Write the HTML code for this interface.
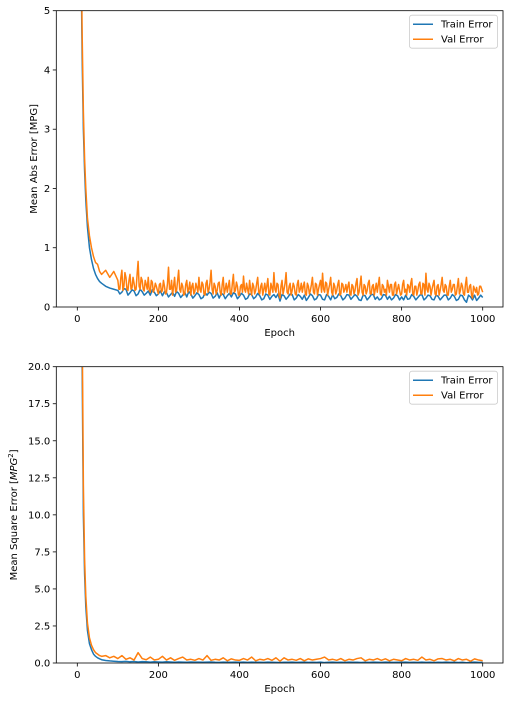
<!DOCTYPE html>
<html><head><meta charset="utf-8">
<style>
html,body{margin:0;padding:0;background:#fff;}
svg{display:block;font-family:"DejaVu Sans","Liberation Sans",sans-serif;}
</style></head>
<body>
<svg id="chart" width="509" height="701" viewBox="0 0 509 701" xmlns="http://www.w3.org/2000/svg"></svg>
<script>
// ---- data ----
const earlyEpochs = [0,3,6,9,12,15,18,21,25,30,35,40,45,50,55,60,70,80,90];
const maeTrainEarly = [22,15,9,6,4.2,3.0,2.3,1.8,1.35,1.0,0.8,0.65,0.55,0.48,0.43,0.4,0.35,0.32,0.3];
const maeValEarly = [22,15,9.5,6.5,4.6,3.3,2.5,2.0,1.5,1.2,1.0,0.85,0.75,0.72,0.6,0.55,0.62,0.5,0.6];
// values at epochs 100,110,...,1000
const maeTrainLate = [0.28,0.25,0.3,0.24,0.27,0.22,0.26,0.23,0.2,0.25,
0.22,0.19,0.24,0.21,0.18,0.23,0.2,0.17,0.22,0.19,
0.21,0.16,0.2,0.23,0.18,0.15,0.21,0.19,0.17,0.22,
0.18,0.2,0.15,0.21,0.17,0.19,0.14,0.2,0.18,0.16,
0.1,0.19,0.17,0.21,0.15,0.18,0.2,0.16,0.19,0.14,
0.2,0.12,0.18,0.21,0.16,0.19,0.15,0.2,0.17,0.18,
0.11,0.19,0.16,0.21,0.17,0.14,0.2,0.18,0.15,0.19,
0.17,0.2,0.14,0.18,0.16,0.21,0.15,0.19,0.12,0.18,
0.16,0.2,0.15,0.18,0.13,0.19,0.08,0.17,0.2,0.15,0.16];
// values at epochs 105,115,...,995
const maeTrainMid = [0.22,0.31,0.2,0.29,0.19,0.3,0.2,0.27,0.29,0.19,
0.27,0.26,0.17,0.25,0.26,0.16,0.25,0.26,0.15,0.24,
0.14,0.24,0.25,0.15,0.24,0.23,0.14,0.23,0.24,0.14,
0.23,0.13,0.22,0.14,0.23,0.12,0.22,0.13,0.21,0.22,
0.21,0.13,0.22,0.12,0.21,0.13,0.11,0.22,0.12,0.21,
0.13,0.21,0.12,0.14,0.22,0.12,0.21,0.13,0.21,0.12,
0.2,0.12,0.21,0.13,0.12,0.21,0.13,0.12,0.21,0.12,
0.12,0.13,0.21,0.12,0.2,0.12,0.2,0.13,0.2,0.12,
0.2,0.12,0.21,0.11,0.2,0.12,0.2,0.12,0.11,0.2];
// values at epochs 100,105,...,1000
const maeValLate = [0.45,0.3,0.62,0.35,0.5,0.28,0.55,0.32,0.4,0.3,0.77,0.3,0.45,0.27,0.38,0.5,0.25,0.42,0.3,0.35,
0.22,0.4,0.28,0.35,0.25,0.67,0.3,0.2,0.5,0.28,0.62,0.25,0.35,0.22,0.45,0.3,0.2,0.4,0.26,0.33,
0.5,0.25,0.38,0.2,0.45,0.3,0.62,0.22,0.35,0.28,0.42,0.2,0.5,0.3,0.25,0.45,0.22,0.55,0.28,0.35,
0.2,0.38,0.52,0.25,0.3,0.45,0.2,0.35,0.28,0.5,0.22,0.4,0.3,0.25,0.48,0.2,0.33,0.58,0.25,0.38,
0.15,0.45,0.3,0.58,0.22,0.4,0.28,0.35,0.2,0.45,0.3,0.25,0.42,0.2,0.35,0.28,0.5,0.22,0.38,0.3,
0.45,0.57,0.25,0.4,0.3,0.5,0.2,0.35,0.28,0.45,0.22,0.38,0.3,0.25,0.42,0.2,0.35,0.28,0.48,0.25,
0.52,0.2,0.35,0.28,0.45,0.22,0.38,0.3,0.25,0.5,0.2,0.35,0.3,0.45,0.25,0.38,0.2,0.42,0.3,0.28,
0.22,0.45,0.3,0.38,0.25,0.48,0.2,0.35,0.28,0.42,0.22,0.38,0.57,0.25,0.35,0.3,0.45,0.2,0.38,0.28,
0.5,0.25,0.35,0.2,0.45,0.3,0.38,0.22,0.48,0.28,0.35,0.2,0.5,0.25,0.38,0.15,0.3,0.33,0.22,0.35,0.25];
// values at epochs 102.5,107.5,...,997.5
const maeValMid = [0.3,0.5,0.28,0.58,0.3,0.45,0.3,0.5,0.28,0.55,0.35,0.5,0.3,0.45,0.3,0.28,0.45,0.25,0.4,0.28,
0.38,0.25,0.45,0.22,0.4,0.3,0.45,0.35,0.25,0.45,0.3,0.4,0.2,0.38,0.25,0.42,0.35,0.22,0.4,0.25,
0.3,0.42,0.22,0.4,0.25,0.42,0.3,0.4,0.22,0.4,0.25,0.38,0.22,0.4,0.35,0.22,0.4,0.25,0.42,0.2,
0.35,0.25,0.3,0.4,0.22,0.3,0.4,0.22,0.4,0.25,0.35,0.2,0.4,0.35,0.22,0.4,0.25,0.3,0.4,0.2,
0.35,0.22,0.4,0.25,0.35,0.2,0.4,0.22,0.38,0.25,0.4,0.35,0.22,0.4,0.22,0.38,0.25,0.4,0.2,0.38,
0.25,0.3,0.42,0.2,0.38,0.25,0.4,0.22,0.38,0.2,0.4,0.25,0.38,0.35,0.22,0.38,0.22,0.4,0.2,0.38,
0.25,0.38,0.22,0.4,0.22,0.35,0.2,0.4,0.38,0.22,0.38,0.25,0.2,0.35,0.38,0.2,0.38,0.22,0.38,0.2,
0.38,0.25,0.2,0.35,0.4,0.22,0.35,0.2,0.38,0.22,0.4,0.2,0.3,0.4,0.2,0.38,0.22,0.35,0.2,0.38,
0.28,0.38,0.2,0.35,0.25,0.38,0.2,0.35,0.22,0.4,0.22,0.38,0.25,0.35,0.2,0.35,0.25,0.2,0.35,0.3];
const mseTrainEarly = [500,250,90,40,20,10,6,3.8,2.2,1.3,0.9,0.6,0.45,0.35,0.28,0.22,0.17,0.14,0.12];
const mseValEarly = [500,260,100,45,23,12,7,4.5,2.7,1.7,1.2,0.9,0.7,0.6,0.5,0.45,0.5,0.35,0.45];
const mseTrainLate = [0.1,0.09,0.11,0.08,0.1,0.07,0.09,0.08,0.06,0.08,
0.07,0.06,0.08,0.07,0.05,0.07,0.06,0.05,0.07,0.06,
0.06,0.05,0.06,0.07,0.05,0.04,0.06,0.05,0.05,0.06,
0.05,0.06,0.04,0.06,0.05,0.05,0.04,0.06,0.05,0.04,
0.03,0.05,0.05,0.06,0.04,0.05,0.06,0.04,0.05,0.04,
0.06,0.03,0.05,0.06,0.04,0.05,0.04,0.06,0.05,0.05,
0.03,0.05,0.04,0.06,0.05,0.04,0.06,0.05,0.04,0.05,
0.05,0.06,0.04,0.05,0.04,0.06,0.04,0.05,0.03,0.05,
0.04,0.06,0.04,0.05,0.03,0.05,0.02,0.05,0.06,0.04,0.04];
const mseValLate = [0.3,0.5,0.25,0.35,0.2,0.7,0.3,0.22,0.4,0.2,
0.25,0.45,0.2,0.35,0.18,0.3,0.4,0.2,0.25,0.18,
0.3,0.2,0.5,0.18,0.25,0.2,0.35,0.15,0.28,0.2,
0.18,0.3,0.2,0.4,0.15,0.25,0.2,0.3,0.18,0.35,
0.12,0.35,0.2,0.25,0.18,0.3,0.15,0.28,0.2,0.25,
0.3,0.4,0.2,0.25,0.18,0.3,0.15,0.25,0.2,0.3,
0.35,0.15,0.25,0.2,0.3,0.18,0.28,0.15,0.25,0.2,
0.15,0.3,0.2,0.25,0.18,0.4,0.2,0.25,0.15,0.28,
0.3,0.2,0.25,0.15,0.3,0.2,0.25,0.12,0.28,0.2,0.15];
const xTicks = [0,200,400,600,800,1000];
const maeTicks = [0,1,2,3,4,5];
const maeTickLabels = ["0","1","2","3","4","5"];
const mseTicks = [0,2.5,5,7.5,10,12.5,15,17.5,20];
const mseTickLabels = ["0.0","2.5","5.0","7.5","10.0","12.5","15.0","17.5","20.0"];
const seriesNames = ["Train Error","Val Error"];

// ---- drawing ----
const NS="http://www.w3.org/2000/svg";
const svg=document.getElementById('chart');
function mk(tag,attrs,parent){const e=document.createElementNS(NS,tag);for(const k in attrs)e.setAttribute(k,attrs[k]);(parent||svg).appendChild(e);return e;}
function buildSeries(early, late, step, mid){
  const pts=[];
  for(let i=0;i<early.length;i++)pts.push([earlyEpochs[i],early[i]]);
  for(let i=0;i<late.length;i++){
    pts.push([100+i*step,late[i]]);
    if(mid && i<mid.length)pts.push([100+i*step+step/2,mid[i]]);
  }
  return pts;
}
function panel(idx,top,ymax,ticks,tickLabels,ylabel,train,val){
  const L=56.3,R=503,T=top,B=top+296.3;
  const xs=v=>77.3+(v/1000)*(482.7-77.3);
  const ys=v=>B-(v/ymax)*(B-T);
  const g=mk('g',{});
  
  
  const cp=mk('clipPath',{id:'clip'+idx},g);
  mk('rect',{x:L,y:T,width:R-L,height:B-T},cp);
  const colors=['#1f77b4','#ff7f0e'];
  [train,val].forEach((s,si)=>{
    const d=s.map((p,i)=>(i?'L':'M')+xs(p[0]).toFixed(2)+','+ys(p[1]).toFixed(2)).join('');
    const path=mk('path',{d:d,fill:'none',stroke:colors[si],'stroke-width':1.5,'clip-path':'url(#clip'+idx+')','stroke-linejoin':'round'},g);
    
    
  });
  const frame=mk('rect',{x:L,y:T,width:R-L,height:B-T,fill:'none',stroke:'#000','stroke-width':0.8},g);
  
  
  xTicks.forEach(t=>{
    const x=xs(t);
    mk('line',{x1:x,x2:x,y1:B,y2:B+3.5,stroke:'#000','stroke-width':0.8},g);
    const tx=mk('text',{x:x,y:B+15,'font-size':10,'text-anchor':'middle',fill:'#000'},g);
    tx.textContent=t;
    
    
  });
  ticks.forEach((t,i)=>{
    const y=ys(t);
    mk('line',{x1:L-3.5,x2:L,y1:y,y2:y,stroke:'#000','stroke-width':0.8},g);
    const tx=mk('text',{x:L-6,y:y+3.5,'font-size':10,'text-anchor':'end',fill:'#000'},g);
    tx.textContent=tickLabels[i];
    
    
  });
  const xl=mk('text',{x:(L+R)/2,y:B+29,'font-size':10,'text-anchor':'middle',fill:'#000'},g);
  xl.textContent='Epoch';
  
  
  const ylx=idx===0?37:17;
  const yl=mk('text',{x:ylx,y:(T+B)/2,'font-size':10,'text-anchor':'middle',fill:'#000',transform:'rotate(-90 '+ylx+' '+((T+B)/2)+')'},g);
  yl.innerHTML=ylabel;
  
  
  const lg=mk('g',{},g);
  
  
  mk('rect',{x:409.5,y:T+4.5,width:88,height:33,rx:2.5,fill:'#fff','fill-opacity':0.8,stroke:'#ccc','stroke-width':0.8},lg);
  seriesNames.forEach((n,i)=>{
    const y=T+13.5+i*15;
    const ln=mk('line',{x1:413,x2:433,y1:y,y2:y,stroke:colors[i],'stroke-width':1.5},lg);
    
    
    const tx=mk('text',{x:441,y:y+3.5,'font-size':10,fill:'#000'},lg);
    tx.textContent=n;
    
    
  });
}
panel(0,10.7,5,maeTicks,maeTickLabels,'Mean Abs Error [MPG]',
  buildSeries(maeTrainEarly,maeTrainLate,10,maeTrainMid),buildSeries(maeValEarly,maeValLate,5,maeValMid));
panel(1,366.7,20,mseTicks,mseTickLabels,'Mean Square Error [<tspan font-style="italic">MPG</tspan><tspan font-size="7" dy="-4">2</tspan><tspan dy="4">]</tspan>',
  buildSeries(mseTrainEarly,mseTrainLate,10),buildSeries(mseValEarly,mseValLate,10));
</script>
</body></html>
